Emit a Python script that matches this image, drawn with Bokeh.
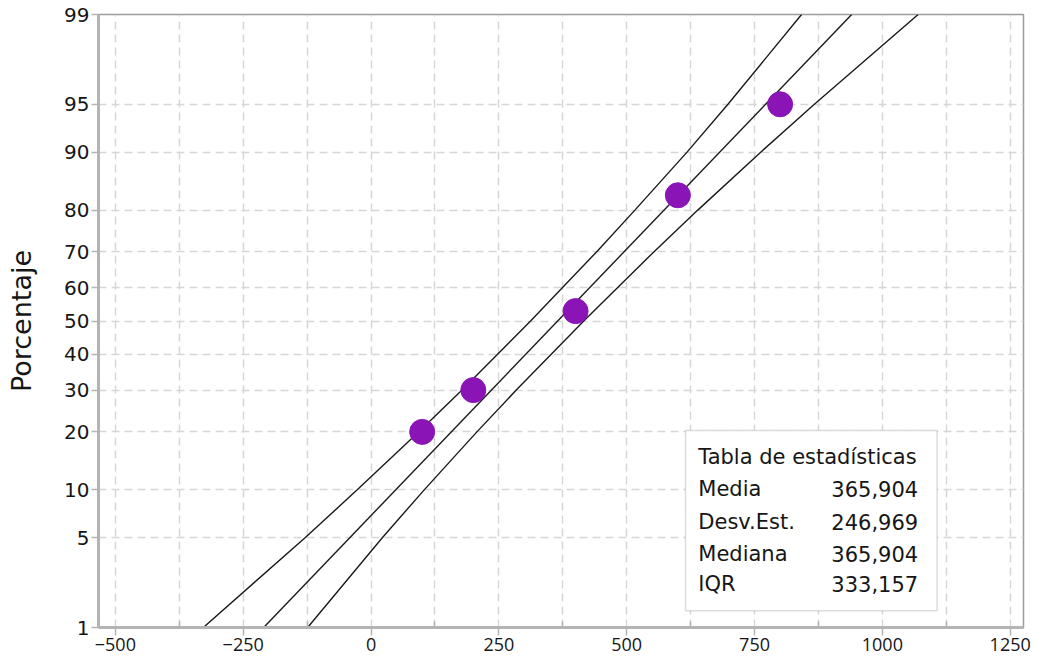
from statistics import NormalDist
from bokeh.plotting import figure
from bokeh.models import Range1d, FixedTicker, BoxAnnotation, Label, CustomJSTickFormatter
from bokeh.embed import file_html
from bokeh.resources import INLINE

# ---------------- data ----------------
data_x = [100, 200, 400, 600, 800]
data_pct = [20, 30, 53, 83, 95]

fit_pct = [1, 99]
fit_x = [-210, 940]

band_pct = [1, 5, 10, 20, 30, 50, 70, 80, 90, 95, 99]
band_left_x = [-328, -129, -27, 93, 178, 312, 441, 516, 618, 698, 842]
band_right_x = [-124, 22, 104, 207, 284, 416, 553, 639, 762, 867, 1070]

y_tick_pct = [1, 5, 10, 20, 30, 40, 50, 60, 70, 80, 90, 95, 99]
x_ticks = [-500, -250, 0, 250, 500, 750, 1000, 1250]
x_minor_ticks = [-375, -125, 125, 375, 625, 875, 1125]

table_title = "Tabla de estadísticas"
stat_names = ["Media", "Desv.Est.", "Mediana", "IQR"]
stat_values = ["365,904", "246,969", "365,904", "333,157"]

# ---------------- probit transform ----------------
nd = NormalDist()
def z(p):
    return nd.inv_cdf(p / 100.0)

TEXT = "#161616"
GRID = "#d6d6d6"
AXIS = "#b4b4b4"

p = figure(width=1033, height=662,
           x_range=Range1d(-533, 1276), y_range=Range1d(z(1), z(99)),
           output_backend="svg", toolbar_location=None,
           min_border_left=98, min_border_right=10,
           min_border_top=14, min_border_bottom=35)

p.background_fill_color = "white"
p.border_fill_color = "white"
p.outline_line_color = "#9c9c9c"
p.outline_line_width = 1.5

# x axis
p.xaxis.ticker = FixedTicker(ticks=x_ticks, minor_ticks=x_minor_ticks)
p.xaxis.major_label_text_font = "Open Sans"
p.xaxis.major_label_text_font_size = "18px"
p.xaxis.major_label_text_color = TEXT
p.xaxis.major_tick_out = 8
p.xaxis.major_tick_in = 0
p.xaxis.minor_tick_in = 6
p.xaxis.minor_tick_out = 0
p.xaxis.major_label_standoff = 2

# y axis (probability scale)
y_ticks = [z(v) for v in y_tick_pct]
y_labels = [str(v) for v in y_tick_pct]
p.yaxis.ticker = FixedTicker(ticks=y_ticks, minor_ticks=[])
p.yaxis.formatter = CustomJSTickFormatter(
    args=dict(vals=y_ticks, labs=y_labels),
    code="for (let i = 0; i < vals.length; i++) { if (Math.abs(vals[i] - tick) < 1e-6) return labs[i]; } return '';")
p.yaxis.major_label_text_font = "DejaVu Sans"
p.yaxis.major_label_text_font_size = "20px"
p.yaxis.major_label_text_color = TEXT
p.yaxis.major_tick_out = 7
p.yaxis.major_tick_in = 0
p.yaxis.major_label_standoff = 2
p.yaxis.axis_label = "Porcentaje"
p.yaxis.axis_label_text_font = "DejaVu Sans"
p.yaxis.axis_label_text_font_size = "27px"
p.yaxis.axis_label_text_font_style = "normal"
p.yaxis.axis_label_text_color = TEXT
p.yaxis.axis_label_standoff = 24

for ax in (p.xaxis, p.yaxis):
    ax.axis_line_color = AXIS
    ax.axis_line_width = 3
    ax.major_tick_line_color = AXIS
    ax.major_tick_line_width = 1.5
    ax.minor_tick_line_color = AXIS
    ax.minor_tick_line_width = 1.5

# grids
for g in (p.xgrid, p.ygrid):
    g.grid_line_color = GRID
    g.grid_line_width = 1.5
    g.grid_line_dash = "8 5"
p.xgrid.minor_grid_line_color = GRID
p.xgrid.minor_grid_line_width = 1.5
p.xgrid.minor_grid_line_dash = "8 5"

# fitted line and confidence bands
p.line(fit_x, [z(v) for v in fit_pct], line_color="#1a1a1a", line_width=1.4)
p.line(band_left_x, [z(v) for v in band_pct], line_color="#1a1a1a", line_width=1.4)
p.line(band_right_x, [z(v) for v in band_pct], line_color="#1a1a1a", line_width=1.4)

# data points
p.scatter(data_x, [z(v) for v in data_pct], size=25, fill_color="#8b14b6",
          line_color="#8b14b6")

# statistics table
box = BoxAnnotation(left=615, right=1107, top=-0.832, bottom=-2.199,
                    fill_color="white", fill_alpha=1.0,
                    line_color="#8c8c8c", line_width=1.5)
p.add_layout(box)

p.add_layout(Label(x=640, y=-1.035, text=table_title, text_font="DejaVu Sans",
                   text_font_size="21px", text_color=TEXT,
                   text_baseline="middle", text_align="left"))
row_y = [-1.273, -1.528, -1.766, -1.994]
for name, val, yy in zip(stat_names, stat_values, row_y):
    p.add_layout(Label(x=640, y=yy, text=name, text_font="DejaVu Sans",
                       text_font_size="21px", text_color=TEXT,
                       text_baseline="middle", text_align="left"))
    p.add_layout(Label(x=1070, y=yy, text=val, text_font="DejaVu Sans",
                       text_font_size="21px", text_color=TEXT,
                       text_baseline="middle", text_align="right"))

open("out.html", "w").write(file_html(p, INLINE))
